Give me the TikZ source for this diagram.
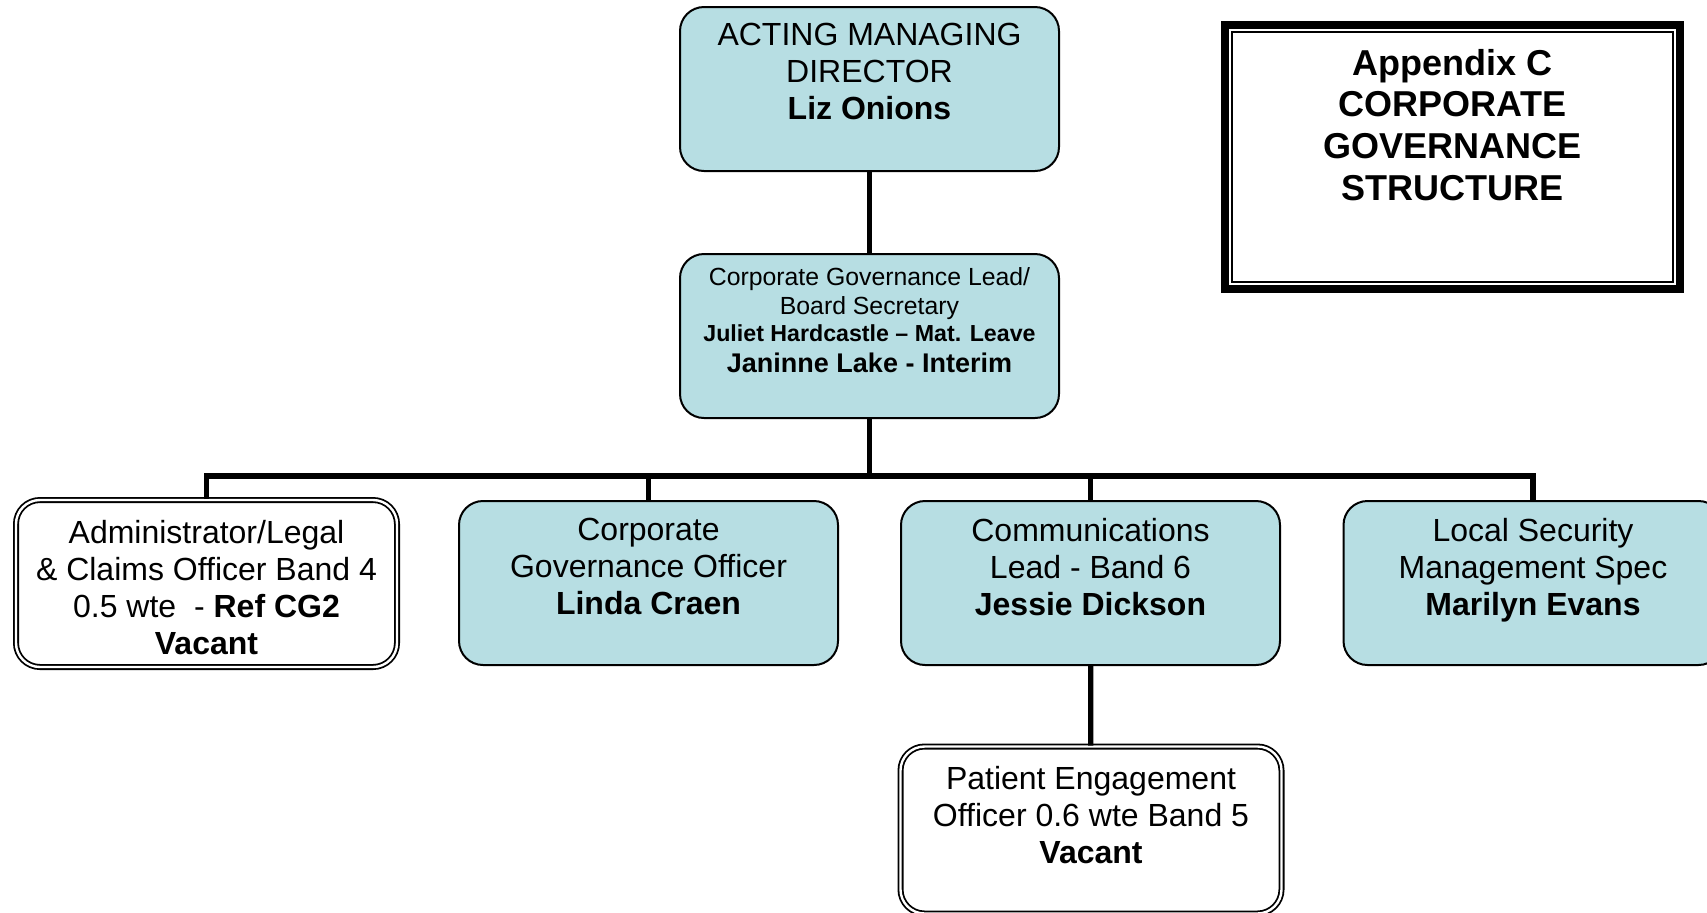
\documentclass[tikz,border=0pt]{standalone}
\usepackage{fontspec}
\setmainfont{Liberation Sans}
\usepackage{xcolor}
\usepackage{tikz}
\usetikzlibrary{positioning,calc}
\definecolor{govblue}{RGB}{183,222,227}
\newcommand{\inbox}[3]{\parbox[c][#1][t]{186pt}{\centering\vspace*{#2}#3}}
\tikzset{post/.style={draw=black,line width=1pt,fill=govblue,rounded corners=12pt,minimum width=189.5pt,minimum height=82pt,inner sep=0pt,font=\fontsize{16}{18.5}\selectfont}}

\begin{document}
\begin{tikzpicture}[x=0.5pt, y=-0.5pt,
  vacant/.style={post,fill=white,line width=0.9pt,double,double distance=1.2pt,minimum width=190.5pt,minimum height=83.5pt},
  header/.style={draw=black,line width=4pt,fill=white,outer sep=0pt,minimum width=227.5pt,minimum height=132pt,inner sep=0pt,font=\fontsize{18}{20.85}\selectfont\bfseries}]
\tikzstyle{link}=[line width=2.6pt]
    \useasboundingbox (0,0) rectangle (1707,912);
    \clip (0,0) rectangle (1707,912);
    \node[post] (amd) at (869.5,89) {\inbox{82pt}{8pt}{ACTING MANAGING\\ DIRECTOR\\ \textbf{Liz Onions}}};
    \node[post] (cgl) at (869.5,336) {\inbox{82pt}{6.8pt}{{\fontsize{12.4}{14.7}\selectfont Corporate Governance Lead/\\ Board Secretary\par}{\fontsize{11.6}{13.5}\selectfont\bfseries Juliet Hardcastle – Mat. Leave\par}{\fontsize{13.5}{15.3}\selectfont\bfseries Janinne Lake - Interim\par}}};
    \node[vacant] (admin) at (206.5,583.5) {\inbox{83.5pt}{10pt}{Administrator/Legal\\ \& Claims Officer Band 4\\ 0.5 wte~ - \textbf{Ref CG2}\\ \textbf{Vacant}}};
    \node[post] (cgo) at (648.5,583) {\inbox{82pt}{8.4pt}{Corporate\\ Governance Officer\\ \textbf{Linda Craen}}};
    \node[post] (comms) at (1090.5,583) {\inbox{82pt}{8.4pt}{Communications\\ Lead - Band 6\\ \textbf{Jessie Dickson}}};
    \node[post] (lsms) at (1533,583) {\inbox{82pt}{8.4pt}{Local Security\\ Management Spec\\ \textbf{Marilyn Evans}}};
    \node[vacant] (patient) at (1091,830) {\inbox{83.5pt}{10pt}{Patient Engagement\\ Officer 0.6 wte Band 5\\ \textbf{Vacant}}};
    \node[header] (title) at (1452.5,157) {\inbox{132pt}{12pt}{Appendix C\\ CORPORATE\\ GOVERNANCE\\ STRUCTURE}};
    \draw[line width=0.7pt] ($(title.south west)+(7,-7)$) rectangle ($(title.north east)+(-7,7)$);
    \coordinate (hub) at (869.5,476);
    \draw[link] (amd) -- (cgl);
    \draw[link] (cgl) -- (hub);
    \draw[link] (admin.north) |- (hub) -| (lsms.north);
    \draw[link] (cgo) -- (cgo |- hub);
    \draw[link] (comms) -- (comms |- hub);
    \draw[link] (comms) -- (patient);
\end{tikzpicture}
\end{document}
